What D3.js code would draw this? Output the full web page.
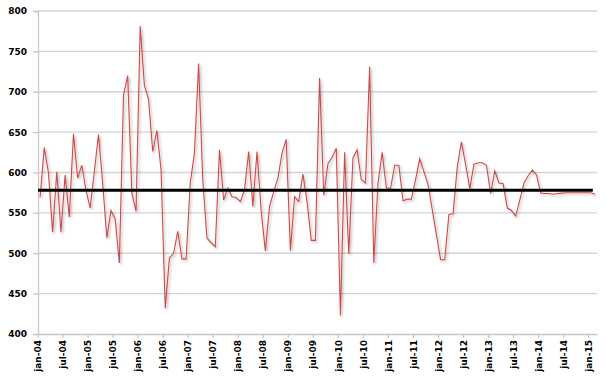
<!DOCTYPE html>
<html>
<head>
<meta charset="utf-8">
<script src="https://cdn.jsdelivr.net/npm/d3@7"></script>
<style>
  body { margin: 0; background: #fff; }
  text { font-family: "DejaVu Sans", Verdana, sans-serif; font-weight: bold; fill: #000; }
</style>
</head>
<body>
<script>
// monthly values jan-04 .. feb-15
const values = [
  569.5, 631, 600, 526, 601, 526, 597, 545, 648, 593, 609, 578,
  556, 601, 647, 587, 519, 553, 542, 488, 696, 720, 574, 552,
  781, 708, 691, 626, 652, 603, 432, 494, 500, 527, 493, 493,
  587, 624, 735, 590, 519, 513, 508, 628, 566, 581, 570, 569,
  564, 578, 626, 558, 626, 552, 503, 558, 576, 593, 624, 641,
  503, 570, 564, 598, 564, 516, 516, 717, 572, 611, 619, 630,
  423, 625, 499, 618, 628, 591, 587, 731, 488, 587, 625, 581,
  580, 609, 609, 565, 567, 567, 591, 617, 601, 585, 554, 523,
  492, 492, 548, 549, 607, 638, 610, 580, 610, 612, 612, 609,
  574, 602, 587, 586, 556, 553, 546, 566, 587, 596, 603, 597,
  574.5, 574, 574, 573, 574, 574.5, 575, 575, 575, 575, 575, 575,
  575, 573
];
const average = 578;
const tickLabels = ['jan-04', 'jul-04', 'jan-05', 'jul-05', 'jan-06', 'jul-06', 'jan-07', 'jul-07',
  'jan-08', 'jul-08', 'jan-09', 'jul-09', 'jan-10', 'jul-10', 'jan-11', 'jul-11', 'jan-12',
  'jul-12', 'jan-13', 'jul-13', 'jan-14', 'jul-14', 'jan-15'];
const yTicks = [400, 450, 500, 550, 600, 650, 700, 750, 800];

// one category per month, named like the tick labels
const monthNames = ['jan', 'feb', 'mrt', 'apr', 'mei', 'jun', 'jul', 'aug', 'sep', 'okt', 'nov', 'dec'];
const months = values.map((v, i) => monthNames[i % 12] + '-' + String(4 + Math.floor(i / 12)).padStart(2, '0'));

const width = 606, height = 376;
const margin = { top: 11, right: 9, bottom: 42, left: 38 };

const svg = d3.select('body').append('svg')
  .attr('width', width)
  .attr('height', height);

const defs = svg.append('defs');
const shadow = defs.append('filter').attr('id', 'shadow')
  .attr('x', '-5%').attr('y', '-5%').attr('width', '110%').attr('height', '110%');
shadow.append('feDropShadow')
  .attr('dx', 1.5).attr('dy', 1.5).attr('stdDeviation', 1)
  .attr('flood-color', '#000').attr('flood-opacity', 0.3);

const x = d3.scaleBand()
  .domain(months)
  .range([margin.left, width - margin.right])
  .padding(0);

const y = d3.scaleLinear()
  .domain([400, 800])
  .range([height - margin.bottom, margin.top]);

// gridlines
svg.append('g')
  .selectAll('line')
  .data(yTicks.filter(d => d > 400))
  .enter()
  .append('line')
  .attr('x1', margin.left)
  .attr('x2', width - margin.right)
  .attr('y1', d => y(d))
  .attr('y2', d => y(d))
  .attr('stroke', '#d4d4d4')
  .attr('stroke-width', 1.3);

// y axis
const yAxis = svg.append('g')
  .attr('transform', `translate(${margin.left},0)`)
  .call(d3.axisLeft(y).tickValues(yTicks).tickSize(5).tickPadding(6));
yAxis.select('.domain').attr('stroke', '#c8c8c8').attr('stroke-width', 1.3);
yAxis.selectAll('.tick line').attr('stroke', '#c8c8c8').attr('stroke-width', 1.3);
yAxis.selectAll('text').style('font-size', '9px');

// x axis
const xAxis = svg.append('g')
  .attr('transform', `translate(0,${height - margin.bottom})`)
  .call(d3.axisBottom(x).tickValues(tickLabels).tickSize(4).tickSizeOuter(0));
xAxis.select('.domain').attr('stroke', '#c8c8c8').attr('stroke-width', 1.3);
xAxis.selectAll('.tick').attr('transform', d => `translate(${x(d)},0)`);
xAxis.selectAll('.tick line').attr('stroke', '#c8c8c8').attr('stroke-width', 1.3);
xAxis.selectAll('text')
  .style('font-size', '9px')
  .attr('text-anchor', 'end')
  .attr('transform', 'rotate(-90)')
  .attr('x', -6)
  .attr('y', 0)
  .attr('dy', '0.35em');

// monthly line
const line = d3.line()
  .x((d, i) => x(months[i]) + x.bandwidth() / 2)
  .y(d => y(d));

svg.append('path')
  .datum(values)
  .attr('d', line)
  .attr('fill', 'none')
  .attr('stroke', '#d04848')
  .attr('stroke-width', 1.1)
  .attr('filter', 'url(#shadow)');

// average line
svg.append('line')
  .attr('x1', x(months[0]))
  .attr('x2', x(months[months.length - 1]))
  .attr('y1', y(average))
  .attr('y2', y(average))
  .attr('stroke', '#000')
  .attr('stroke-width', 2.8);
</script>
</body>
</html>
